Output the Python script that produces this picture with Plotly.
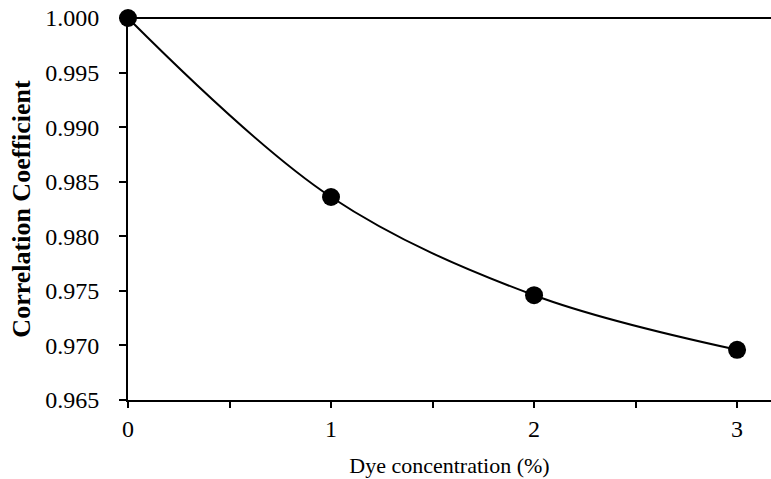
import plotly.graph_objects as go

dye_conc = [0, 1, 2, 3]
corr_coef = [1.000, 0.9836, 0.9746, 0.9696]
x_ticks = [0, 0.5, 1, 1.5, 2, 2.5, 3]
x_tick_labels = ["0", "", "1", "", "2", "", "3"]
y_ticks = [0.965, 0.970, 0.975, 0.980, 0.985, 0.990, 0.995, 1.000]
y_tick_labels = ["0.965", "0.970", "0.975", "0.980", "0.985", "0.990", "0.995", "1.000"]

font = "Liberation Serif"
fig = go.Figure()
# top border line at the y = 1.000 level (top of the y range)
fig.add_shape(type="line", xref="paper", yref="paper", x0=0, x1=1, y0=1, y1=1,
              line=dict(color="black", width=2), layer="below")
fig.add_trace(go.Scatter(
    x=dye_conc, y=corr_coef, mode="lines+markers",
    line=dict(shape="spline", smoothing=1.0, color="black", width=2),
    marker=dict(size=18, color="black"),
    cliponaxis=False, showlegend=False,
))
fig.update_layout(
    width=771, height=479,
    margin=dict(l=128, r=0, t=18, b=79),
    plot_bgcolor="white", paper_bgcolor="white",
    font=dict(family=font, size=24, color="black"),
)
fig.update_xaxes(
    range=[0, 3.167], tickvals=x_ticks, ticktext=x_tick_labels,
    ticks="outside", ticklen=6, tickwidth=2, tickcolor="black",
    showline=True, linecolor="black", linewidth=2,
    showgrid=False, zeroline=False, automargin=False,
    ticklabeloverflow="allow",
    tickfont=dict(family=font, size=24),
    title=dict(text="Dye concentration (%)", font=dict(family=font, size=22), standoff=17),
)
fig.update_yaxes(
    range=[0.965, 1.000], tickvals=y_ticks, ticktext=y_tick_labels,
    ticks="outside", ticklen=7, tickwidth=2, tickcolor="black",
    showline=True, linecolor="black", linewidth=2,
    showgrid=False, zeroline=False, automargin=False,
    ticklabelstandoff=15, ticklabeloverflow="allow",
    tickfont=dict(family=font, size=24),
    title=dict(text="<b>Correlation Coefficient</b>", font=dict(family=font, size=26), standoff=7),
)
fig.write_html(
    "out.html",
    config={"displayModeBar": False},
    post_script="document.body.style.margin='0';document.body.style.overflow='hidden';",
)
